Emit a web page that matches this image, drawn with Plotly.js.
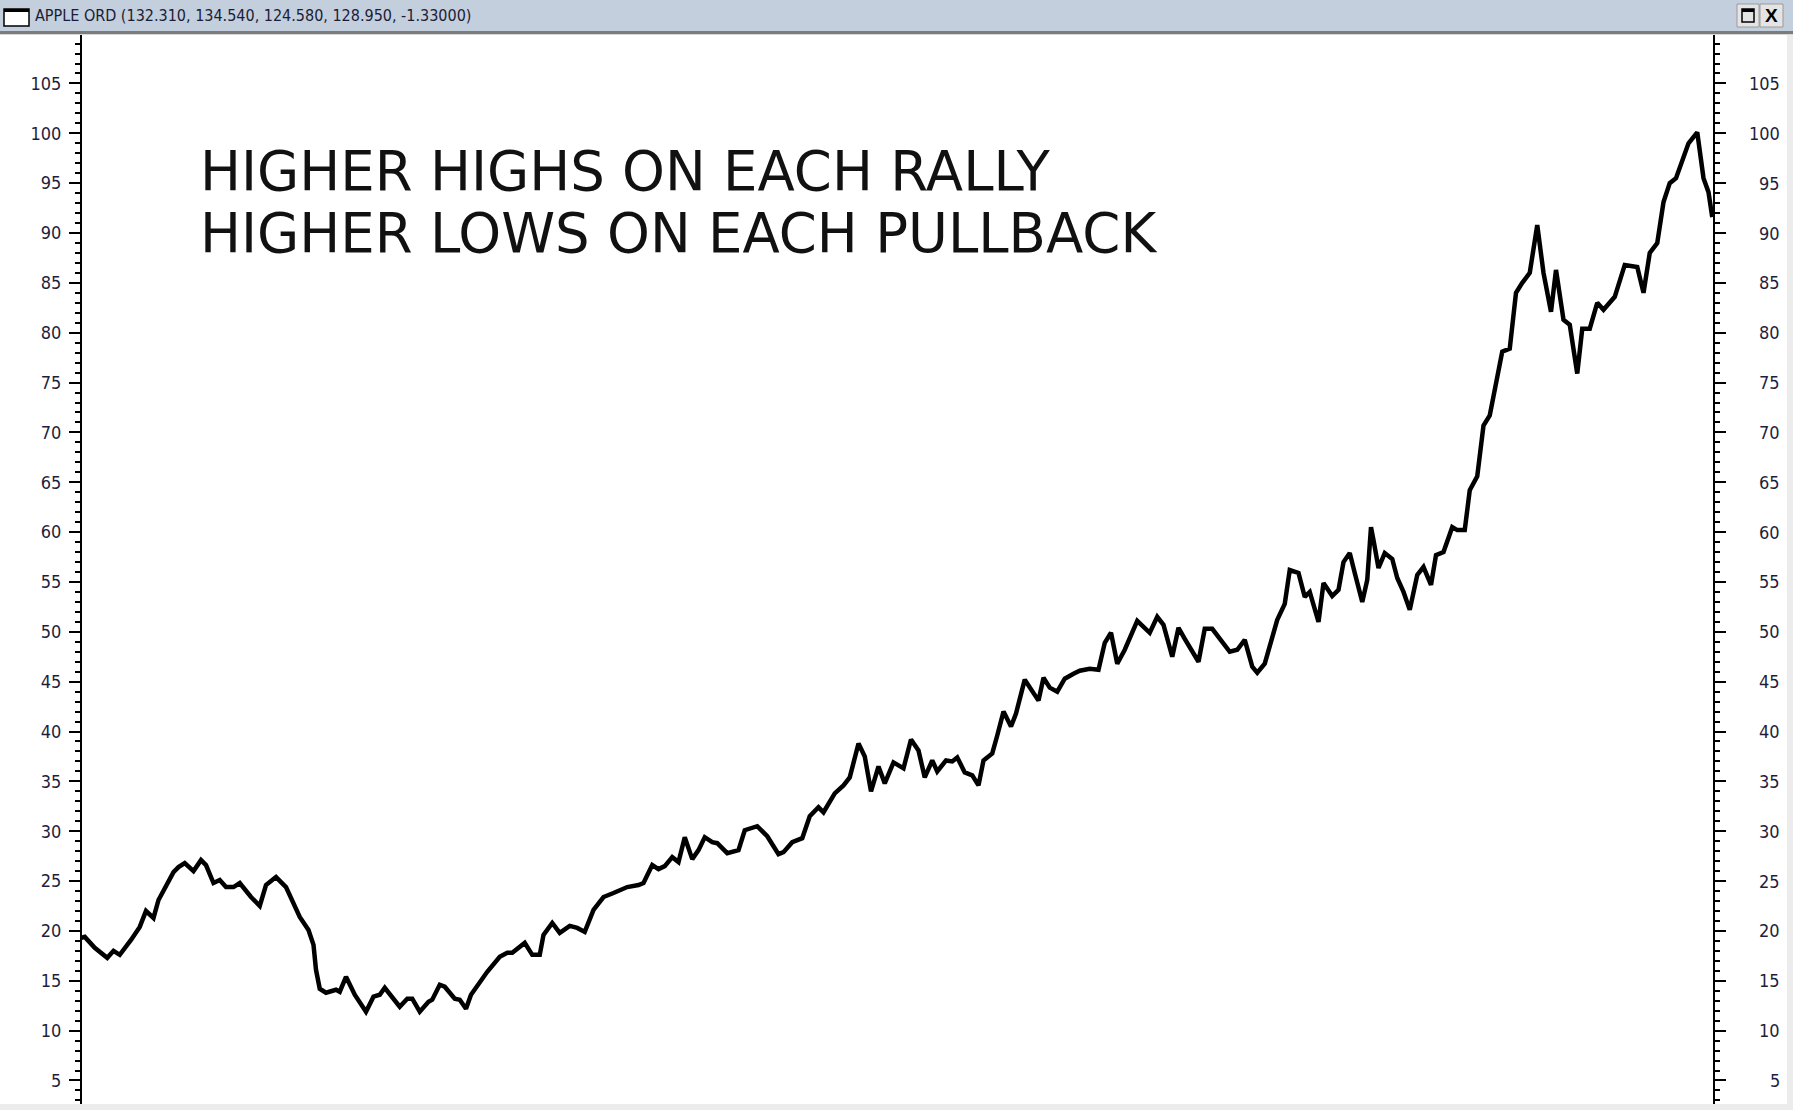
<!DOCTYPE html>
<html>
<head>
<meta charset="utf-8">
<script src="https://cdn.plot.ly/plotly-3.0.1.min.js"></script>
<style>
  html, body { margin: 0; padding: 0; background: #fff; }
  #chart { width: 1793px; height: 1110px; }
</style>
</head>
<body>
<div id="chart"></div>
<script>
// trading day index and close price
var tradingDay = [0,3,11,15,21,26,31,40,47,52,58,62,68,74,78,83,90,96,100,106,111,116,122,127,136,143,148,156,164,175,182,186,188,191,196,204,207,212,
  219,228,234,239,243,255,261,265,271,278,281,287,291,299,303,308,312,325,335,341,345,351,355,361,367,370,377,383,391,397,403,410,418,426,437,446,
  450,457,462,467,473,478,483,489,494,499,505,509,517,526,531,541,549,558,562,569,577,583,590,594,603,610,615,622,627,632,638,643,650,658,664,670,675,681,685,692,697,701,707,713,718,722,729,
  733,738,744,748,755,761,766,770,775,781,787,794,799,807,814,819,824,829,835,845,850,855,861,866,873,878,883,894,899,905,919,925,931,937,941,947,957,
  963,967,974,979,983,990,994,1001,1006,1010,1015,1019,1025,1029,1032,1034,1038,1043,1049,1053,1058,1063,1069,1074,1080,1084,1090,1097,1101,1107,1111,1117,1119,1122,1127,
  1133,1137,1143,1148,1153,1159,1165,1170,1176,1180,1186,1191,1197,1201,1207,1213,1218,1227,1235,1245,1250,1255,1261,1266,1271,1276,1286,1293,1298,1302,1305];

var closePrice = [19.3,19.4,18.3,17.9,17.3,18.0,17.6,19.1,20.4,22.0,21.3,23.1,24.4,25.9,26.4,26.8,26.0,27.1,26.6,24.8,25.1,24.4,24.4,24.8,23.4,22.5,24.6,25.4,24.4,21.4,20.1,18.6,16.1,14.2,13.8,14.1,13.9,15.4,
  13.6,11.9,13.4,13.6,14.3,12.4,13.2,13.2,11.9,12.9,13.1,14.6,14.4,13.2,13.1,12.2,13.6,15.9,17.4,17.8,17.8,18.4,18.8,17.6,17.6,19.6,20.8,19.8,20.5,20.3,19.9,22.1,23.4,23.8,24.4,24.6,
  24.8,26.6,26.2,26.5,27.4,26.9,29.4,27.2,28.1,29.4,28.9,28.8,27.8,28.1,30.1,30.5,29.5,27.7,27.9,28.9,29.3,31.5,32.4,31.9,33.8,34.6,35.4,38.8,37.5,34.0,36.5,34.8,36.9,36.3,39.2,38.1,35.4,37.1,36.0,37.1,37.0,37.4,35.9,35.6,34.6,37.1,37.8,
  39.6,42.0,40.5,41.8,45.2,44.0,43.1,45.4,44.4,44.0,45.3,45.8,46.1,46.3,46.2,48.9,49.9,46.8,48.2,51.1,50.5,49.9,51.5,50.7,47.5,50.4,49.3,47.0,50.3,50.3,48.0,48.2,49.2,46.5,45.9,46.8,51.2,
  52.8,56.2,55.9,53.5,54.0,51.0,54.9,53.6,54.2,57.0,57.9,55.9,53.0,55.2,60.5,59.2,56.4,57.9,57.3,55.4,54.0,52.2,55.7,56.5,54.7,57.7,58.0,60.5,60.2,60.2,64.2,65.6,67.6,70.7,71.7,
  75.3,78.1,78.4,84.0,85.0,86.0,90.8,86.0,82.1,86.3,81.3,80.8,75.9,80.4,80.4,83.0,82.3,83.6,86.8,86.6,84.0,88.0,89.0,93.1,95.0,95.5,99.0,100.1,95.5,94.1,91.6];

var priceTicks = [5,10,15,20,25,30,35,40,45,50,55,60,65,70,75,80,85,90,95,100,105];

var windowTitle = 'APPLE ORD (132.310, 134.540, 124.580, 128.950, -1.33000)';
var noteLines = ['HIGHER HIGHS ON EACH RALLY', 'HIGHER LOWS ON EACH PULLBACK'];

var W = 1793, H = 1110;
function px(x) { return x / W; }
function py(y) { return 1 - y / H; }

var labelFont = {family: 'Liberation Sans Narrow, DejaVu Sans Condensed, Arial Narrow, sans-serif', size: 18, color: '#1e1e3c'};

var price = {
    x: tradingDay,
    y: closePrice,
    type: 'scatter',
    mode: 'lines',
    line: {color: '#000000', width: 4.5},
    hoverinfo: 'skip',
    showlegend: false
};

var annotations = [];
// right hand price scale (right-aligned like the left one)
priceTicks.forEach(function (v) {
    annotations.push({
        xref: 'paper', yref: 'y', x: px(1782), y: v,
        xanchor: 'right', yanchor: 'middle',
        text: String(v), showarrow: false, font: labelFont
    });
});
noteLines.forEach(function (t, i) {
    annotations.push({
        xref: 'paper', yref: 'paper', x: px(198), y: py(171 + i * 62),
        xanchor: 'left', yanchor: 'middle',
        text: t, showarrow: false,
        font: {family: 'DejaVu Sans, Verdana, sans-serif', size: 54.5, color: '#111111'}
    });
});
annotations.push({
    xref: 'paper', yref: 'paper', x: px(33), y: py(16),
    xanchor: 'left', yanchor: 'middle', text: windowTitle, showarrow: false,
    font: {family: 'Liberation Sans Narrow, DejaVu Sans Condensed, sans-serif', size: 16, color: '#1c1c38'}
});
annotations.push({
    xref: 'paper', yref: 'paper', x: px(1771.5), y: py(15.5),
    xanchor: 'center', yanchor: 'middle', text: '<b>X</b>', showarrow: false,
    font: {family: 'Liberation Sans, Arial, sans-serif', size: 19, color: '#000000'}
});

function rect(x0, y0, x1, y1, fill, lineColor, lw) {
    return {type: 'rect', xref: 'paper', yref: 'paper', layer: 'above',
        x0: px(x0), x1: px(x1), y0: py(y1), y1: py(y0),
        fillcolor: fill, line: {color: lineColor || fill, width: lw || 0}};
}

var shapes = [
    rect(0, 0, 1793, 31, '#c3cfdc'),
    rect(0, 31, 1793, 34, '#7c7c7c'),
    rect(0, 34, 1793, 35, '#d8d8d8'),
    // window icon
    rect(4, 9, 29, 26, '#ffffff', '#000000', 1.5),
    rect(4, 9, 29, 12, '#000000'),
    // buttons
    rect(1737, 4, 1759, 27, '#e4e4e4', '#9a9a9a', 1),
    rect(1760, 4, 1783, 27, '#e4e4e4', '#9a9a9a', 1),
    rect(1742, 9, 1754, 22, 'rgba(0,0,0,0)', '#000000', 1.5),
    rect(1742, 9, 1754, 12, '#000000'),
    // frame edges
    rect(1787, 35, 1793, 1110, '#ececec'),
    rect(0, 1104, 1793, 1110, '#ececec')
];

var layout = {
    width: W,
    height: H,
    margin: {l: 0, r: 0, t: 0, b: 0},
    paper_bgcolor: '#ffffff',
    plot_bgcolor: '#ffffff',
    xaxis: {
        domain: [px(82), px(1713)],
        range: [0.8, 1305.6],
        showgrid: false, zeroline: false, showline: false,
        showticklabels: false, ticks: ''
    },
    yaxis: {
        domain: [py(1104), py(35)],
        range: [2.64, 109.86],
        tick0: 0, dtick: 5,
        ticks: 'outside', ticklen: 11, tickwidth: 2, tickcolor: '#000000',
        showline: true, linecolor: '#000000', linewidth: 2, mirror: 'ticks',
        showgrid: false, zeroline: false,
        tickfont: labelFont,
        ticklabelstandoff: 4,
        minor: {dtick: 1, tick0: 0, ticks: 'outside', ticklen: 5, tickwidth: 2, tickcolor: '#000000', showgrid: false}
    },
    shapes: shapes,
    annotations: annotations
};

Plotly.newPlot('chart', [price], layout, {displayModeBar: false, staticPlot: true});
</script>
</body>
</html>
